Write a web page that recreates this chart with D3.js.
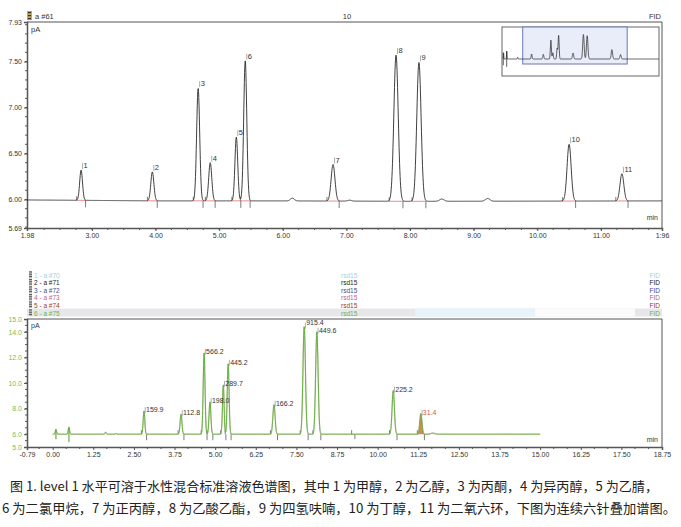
<!DOCTYPE html>
<html><head><meta charset="utf-8">
<script src="https://cdn.jsdelivr.net/npm/d3@7"></script>
<style>
html,body{margin:0;padding:0;background:#fff;}
svg{display:block;font-family:"Liberation Sans",Arial,sans-serif;}
</style></head>
<body><svg id="c" width="681" height="527"></svg>
<script>
// ---------- DATA ----------
const topPeakLabels = ["1","2","3","4","5","6","7","8","9","10","11"];
const topTimes   = [2.83, 3.95, 4.67, 4.86, 5.27, 5.41, 6.79, 7.78, 8.14, 10.50, 11.33];
const topApex    = [6.32, 6.30, 7.21, 6.40, 6.68, 7.51, 6.38, 7.57, 7.49, 6.60, 6.28];
const topWidth   = [0.022,0.024,0.024,0.024,0.022,0.024,0.030,0.034,0.034,0.032,0.030];
const topBaseT   = [1.98, 3.0, 4.0, 6.0, 8.0, 10.0, 11.96];
const topBaseV   = [5.995,5.99,5.985,5.985,5.98,5.982,5.985];
const topBumpT   = [6.15, 7.05, 8.50, 9.22];
const topBumpH   = [0.03, 0.01, 0.025, 0.03];
const topYTicks  = [7.93, 7.50, 7.00, 6.50, 6.00, 5.69];
const topXTicks  = [1.98, 3, 4, 5, 6, 7, 8, 9, 10, 11, 11.96];
const topXLabels = ["1.98","3.00","4.00","5.00","6.00","7.00","8.00","9.00","10.00","11.00","1:96"];

const botPeakLabels = ["159.9","112.8","566.2","198.0","289.7","445.2","166.2","915.4","449.6","225.2","31.4"];
const botTimes   = [2.81, 3.95, 4.66, 4.84, 5.25, 5.40, 6.81, 7.74, 8.13, 10.48, 11.33];
const botApex    = [7.80, 7.55, 12.35, 8.50, 9.85, 11.50, 8.30, 14.40, 14.00, 9.40, 7.60];
const botWidth   = [0.025,0.028,0.028,0.028,0.025,0.028,0.034,0.038,0.038,0.036,0.034];
const botBumpT   = [0.10, 0.50, 1.63, 1.95, 11.70];
const botBumpH   = [0.35, 0.55, 0.15, 0.05, 0.08];
const botYTicks  = [15.0, 14.0, 12.0, 10.0, 8.0, 6.0, 5.0];
const botXTicks  = [-0.79, 0, 1.25, 2.5, 3.75, 5, 6.25, 7.5, 8.75, 10, 11.25, 12.5, 13.75, 15, 16.25, 17.5, 18.75];
const botXLabels = ["-0.79","0.00","1.25","2.50","3.75","5.00","6.25","7.50","8.75","10.00","11.25","12.50","13.75","15.00","16.25","17.50","18.75"];

const legendRows   = ["1 - a #70","2 - a #71","3 - a #72","4 - a #73","5 - a #74","6 - a #75"];
const legendColors = ["#9fd2e4","#222222","#3d4d8c","#c45a92","#9a3b1c","#6cb24a"];

const caption1 = "图 1. level 1 水平可溶于水性混合标准溶液色谱图，其中 1 为甲醇，2 为乙醇，3 为丙酮，4 为异丙醇，5 为乙腈，";
const caption2 = "6 为二氯甲烷，7 为正丙醇，8 为乙酸乙酯，9 为四氢呋喃，10 为丁醇，11 为二氧六环，下图为连续六针叠加谱图。";

// ---------- HELPERS ----------
const svg = d3.select("#c");
function signal(t, times, apex, widths, baseFn, bumpT, bumpH, bumpW){
  let v = baseFn(t);
  for(let i=0;i<times.length;i++){
    const d=(t-times[i])/widths[i];
    if(Math.abs(d)<6) v += (apex[i]-baseFn(times[i]))*Math.exp(-0.5*d*d);
  }
  for(let i=0;i<bumpT.length;i++){
    const d=(t-bumpT[i])/bumpW[i];
    if(Math.abs(d)<6) v += bumpH[i]*Math.exp(-0.5*d*d);
  }
  return v;
}
const topBase = d3.scaleLinear().domain(topBaseT).range(topBaseV);

// ================= TOP CHART =================
const tx = d3.scaleLinear().domain([1.98,11.96]).range([27,662]);
const ty = d3.scaleLinear().domain([5.69,7.93]).range([228,22]);
const gT = svg.append("g");

// header
gT.append("rect").attr("x",27).attr("y",11).attr("width",5).attr("height",9).attr("fill","#c9a54a");
for(let k=0;k<3;k++) gT.append("rect").attr("x",28).attr("y",12+k*3).attr("width",3).attr("height",1.2).attr("fill","#333");
gT.append("text").attr("x",35).attr("y",19).attr("font-size",7.5).attr("fill","#333").text("a #61");
gT.append("text").attr("x",347).attr("y",19).attr("font-size",7.5).attr("fill","#333").attr("text-anchor","middle").text("10");
gT.append("text").attr("x",661).attr("y",19).attr("font-size",7.5).attr("fill","#333").attr("text-anchor","end").text("FID");

// frame
gT.append("line").attr("x1",27).attr("x2",662).attr("y1",22).attr("y2",22).attr("stroke","#555").attr("stroke-width",1);
gT.append("line").attr("x1",662).attr("x2",662).attr("y1",22).attr("y2",228).attr("stroke","#555").attr("stroke-width",1);

// axes
const tyAxis = d3.axisLeft(ty).tickValues(topYTicks).tickFormat((d,i)=>d.toFixed(2)).tickSize(3).tickPadding(2);
const gya = gT.append("g").attr("transform","translate(27,0)").call(tyAxis);
const tyMinor = d3.range(5.7,7.93,0.1);
gya.selectAll(".mn").data(tyMinor).enter().append("line").attr("x1",-2).attr("x2",0).attr("y1",d=>ty(d)).attr("y2",d=>ty(d)).attr("stroke","#555");
const txAxis = d3.axisBottom(tx).tickValues(topXTicks).tickFormat((d,i)=>topXLabels[i]).tickSize(3).tickPadding(2);
const gxa = gT.append("g").attr("transform","translate(0,228)").call(txAxis);
const txMinor = d3.range(2.25,11.96,0.25);
gxa.selectAll(".mn").data(txMinor).enter().append("line").attr("x1",d=>tx(d)).attr("x2",d=>tx(d)).attr("y1",0).attr("y2",2).attr("stroke","#555");
[gya,gxa].forEach(g=>{g.selectAll("text").attr("font-size",7).attr("fill","#333").attr("font-family","Liberation Sans, Arial");g.select(".domain").attr("stroke","#555").attr("stroke-width",1.5);g.selectAll(".tick line").attr("stroke","#555");});

gT.append("text").attr("x",31).attr("y",32).attr("font-size",7.5).attr("fill","#333").text("pA");
gT.append("text").attr("x",658).attr("y",220).attr("font-size",7).attr("fill","#333").attr("text-anchor","end").text("min");

// red baselines + integration marks
topTimes.forEach((t,i)=>{
  const w = topWidth[i]*3.2;
  gT.append("line").attr("x1",tx(t-w)).attr("x2",tx(t+w)).attr("y1",ty(topBase(t-w))).attr("y2",ty(topBase(t+w))).attr("stroke","#f08a8a").attr("stroke-width",1);
  gT.append("line").attr("x1",tx(t-w)).attr("x2",tx(t-w)).attr("y1",ty(topBase(t-w))-4).attr("y2",ty(topBase(t-w))).attr("stroke","#444").attr("stroke-width",0.7);
  gT.append("line").attr("x1",tx(t+w)).attr("x2",tx(t+w)).attr("y1",ty(topBase(t+w))).attr("y2",ty(topBase(t+w))+7).attr("stroke","#444").attr("stroke-width",0.7);
});

// trace
const tpts = d3.range(1.98,11.961,0.004).map(t=>[t, signal(t,topTimes,topApex,topWidth,topBase,topBumpT,topBumpH,[0.03,0.03,0.035,0.035])]);
gT.append("path").datum(tpts).attr("fill","none").attr("stroke","#2a2a2a").attr("stroke-width",0.9)
  .attr("d",d3.line().x(d=>tx(d[0])).y(d=>ty(d[1])));

// peak labels
topTimes.forEach((t,i)=>{
  const x=tx(t), y=ty(topApex[i]);
  gT.append("line").attr("x1",x+1.5).attr("x2",x+1.5).attr("y1",y-7).attr("y2",y-1).attr("stroke","#777").attr("stroke-width",0.6);
  gT.append("text").attr("x",x+2.5).attr("y",y-2).attr("font-size",7.5).attr("fill","#333").text(topPeakLabels[i]);
});

// inset overview
const ix = d3.scaleLinear().domain([0,15]).range([502,659]);
const iy = d3.scaleLinear().domain([6.0,7.6]).range([59,34]);
const gI = svg.append("g");
gI.append("rect").attr("x",502).attr("y",27).attr("width",157).attr("height",49).attr("fill","#fff").attr("stroke","#666").attr("stroke-width",1);
gI.append("rect").attr("x",ix(1.98)).attr("y",27).attr("width",ix(11.96)-ix(1.98)).attr("height",37).attr("fill","#e9edf9").attr("stroke","#6876b8").attr("stroke-width",1);
const ipts = d3.range(0.1,15,0.01).map(t=>[t, signal(t,topTimes,topApex,topWidth.map(w=>w*2),()=>6.0,[0.15,0.45,1.5],[0.4,0.5,0.12],[0.02,0.02,0.03])]);
gI.append("path").datum(ipts).attr("fill","none").attr("stroke","#333").attr("stroke-width",0.8).attr("d",d3.line().x(d=>ix(d[0])).y(d=>iy(d[1])));
gI.append("line").attr("x1",ix(0.12)).attr("x2",ix(0.12)).attr("y1",iy(5.6)).attr("y2",iy(6.4)).attr("stroke","#333").attr("stroke-width",0.8);
gI.append("line").attr("x1",ix(0.45)).attr("x2",ix(0.45)).attr("y1",iy(5.5)).attr("y2",iy(6.5)).attr("stroke","#333").attr("stroke-width",0.8);

// ================= BOTTOM CHART =================
const bx = d3.scaleLinear().domain([-0.79,18.75]).range([27,662]);
const by = d3.scaleLinear().domain([5.0,15.0]).range([447,319]);
const gB = svg.append("g");

// legend rows
const rowY = [275,282.5,290,297.5,305,313];
gB.append("rect").attr("x",27).attr("y",rowY[5]-4.5).attr("width",635).attr("height",8).attr("fill","#e7e7ea");
gB.append("rect").attr("x",415).attr("y",rowY[5]-4.5).attr("width",120).attr("height",8).attr("fill","#e6f3f9");
gB.append("rect").attr("x",535).attr("y",rowY[5]-4.5).attr("width",100).attr("height",8).attr("fill","#fbfbfb");
legendRows.forEach((s,i)=>{
  const y=rowY[i];
  gB.append("rect").attr("x",29).attr("y",y-4).attr("width",3).attr("height",7).attr("fill","#bbb");
  for(let k=0;k<3;k++) gB.append("rect").attr("x",29).attr("y",y-3.5+k*2.3).attr("width",3).attr("height",0.9).attr("fill","#555");
  gB.append("text").attr("x",34).attr("y",y+2.5).attr("font-size",6.5).attr("fill",legendColors[i]).text(s);
  gB.append("text").attr("x",341).attr("y",y+2.5).attr("font-size",6.5).attr("fill",legendColors[i]).text("rsd15");
  gB.append("text").attr("x",660).attr("y",y+2.5).attr("font-size",6.5).attr("fill",legendColors[i]).attr("text-anchor","end").text("FID");
});

// frame
gB.append("line").attr("x1",27).attr("x2",662).attr("y1",319).attr("y2",319).attr("stroke","#555").attr("stroke-width",1);
gB.append("line").attr("x1",662).attr("x2",662).attr("y1",319).attr("y2",447).attr("stroke","#555").attr("stroke-width",1);

const byAxis = d3.axisLeft(by).tickValues(botYTicks).tickFormat(d=>d.toFixed(1)).tickSize(3).tickPadding(2);
const gbya = gB.append("g").attr("transform","translate(27,0)").call(byAxis);
gbya.selectAll(".mn").data(d3.range(5.5,15,0.5)).enter().append("line").attr("x1",-2).attr("x2",0).attr("y1",d=>by(d)).attr("y2",d=>by(d)).attr("stroke","#555");
const bxAxis = d3.axisBottom(bx).tickValues(botXTicks).tickFormat((d,i)=>botXLabels[i]).tickSize(3).tickPadding(2);
const gbxa = gB.append("g").attr("transform","translate(0,447)").call(bxAxis);
const bxMinor = [];
for(let m=-1.25;m<18.75;m+=1.25){ for(let k=1;k<3;k++){const v=m+k*1.25/3; if(v>-0.79 && v<18.75) bxMinor.push(v);} }
gbxa.selectAll(".mn").data(bxMinor).enter().append("line").attr("x1",d=>bx(d)).attr("x2",d=>bx(d)).attr("y1",0).attr("y2",2).attr("stroke","#555");
gbya.selectAll("text").attr("fill","#7cbc5c");
gbxa.selectAll("text").attr("fill","#333");
[gbya,gbxa].forEach(g=>{g.selectAll("text").attr("font-size",7).attr("font-family","Liberation Sans, Arial");g.select(".domain").attr("stroke","#555").attr("stroke-width",1.5);g.selectAll(".tick line").attr("stroke","#555");});

gB.append("text").attr("x",31).attr("y",328).attr("font-size",7).attr("fill","#333").text("pA");
gB.append("text").attr("x",658).attr("y",442).attr("font-size",7).attr("fill","#333").attr("text-anchor","end").text("min");

// orange filled last peak
const botBase = ()=>6.0;
const bumpW = [0.02,0.02,0.02,0.02,0.06];
const li = 10, lt = botTimes[li], lw = botWidth[li]*3;
const fillPts = d3.range(lt-lw, lt+lw+0.001, 0.004).map(t=>[t, signal(t,botTimes,botApex,botWidth,botBase,botBumpT,botBumpH,bumpW)]);
gB.append("path").datum(fillPts).attr("fill","#d98a4e").attr("stroke","none")
  .attr("d",d3.area().x(d=>bx(d[0])).y0(by(6.0)).y1(d=>by(d[1])));

// integration marks
botTimes.forEach((t,i)=>{
  const w = botWidth[i]*3.2;
  gB.append("line").attr("x1",bx(t-w)).attr("x2",bx(t-w)).attr("y1",by(6)-4).attr("y2",by(6)).attr("stroke","#444").attr("stroke-width",0.7);
  gB.append("line").attr("x1",bx(t+w)).attr("x2",bx(t+w)).attr("y1",by(6)).attr("y2",by(6)+6).attr("stroke","#444").attr("stroke-width",0.7);
});
gB.append("line").attr("x1",bx(9.2)).attr("x2",bx(9.2)).attr("y1",by(6)-4).attr("y2",by(6)).attr("stroke","#444").attr("stroke-width",0.7);
gB.append("line").attr("x1",bx(9.3)).attr("x2",bx(9.3)).attr("y1",by(6)).attr("y2",by(6)+5).attr("stroke","#444").attr("stroke-width",0.7);

// trace (green, with faint overlay underneath)
const bpts = d3.range(0,15.001,0.004).map(t=>[t, signal(t,botTimes,botApex,botWidth,botBase,botBumpT,botBumpH,bumpW)]);
const bline = d3.line().x(d=>bx(d[0])).y(d=>by(d[1]));
gB.append("path").datum(bpts).attr("fill","none").attr("stroke","#9a8a5a").attr("stroke-width",1.4).attr("opacity",0.35).attr("d",bline);
gB.append("path").datum(bpts).attr("fill","none").attr("stroke","#64b140").attr("stroke-width",1).attr("d",bline);
[[0.10,5.6,6.4],[0.50,5.4,6.55]].forEach(s=>{
  gB.append("line").attr("x1",bx(s[0])).attr("x2",bx(s[0])).attr("y1",by(s[1])).attr("y2",by(s[2])).attr("stroke","#64b140").attr("stroke-width",1.2);
});

// labels (shift a label up when it would collide with the next one)
const fs = 7;
botTimes.forEach((t,i)=>{
  const x=bx(t);
  let y=by(botApex[i]);
  let ty0 = y+1;
  if(i<botTimes.length-1){
    const nx = bx(botTimes[i+1]), ny = by(botApex[i+1]);
    const wText = botPeakLabels[i].length*fs*0.55;
    if(nx < x+2+wText && Math.abs(ny-y) < fs+1) ty0 = ny + 1 - fs - 0.5;
  }
  const col = i===10 ? "#e0553a" : "#333";
  gB.append("line").attr("x1",x+1.2).attr("x2",x+1.2).attr("y1",y-4).attr("y2",y+2).attr("stroke","#777").attr("stroke-width",0.6);
  gB.append("text").attr("x",x+2).attr("y",ty0).attr("font-size",fs).attr("fill",col).text(botPeakLabels[i]);
});

// ================= CAPTION =================
svg.append("text").attr("x",10).attr("y",491).attr("font-size",13).attr("fill","#222")
  .attr("font-family","Noto Sans CJK SC").attr("textLength",648).attr("lengthAdjust","spacingAndGlyphs").text(caption1);
svg.append("text").attr("x",2).attr("y",513).attr("font-size",13).attr("fill","#222")
  .attr("font-family","Noto Sans CJK SC").attr("textLength",674).attr("lengthAdjust","spacingAndGlyphs").text(caption2);
</script></body></html>
